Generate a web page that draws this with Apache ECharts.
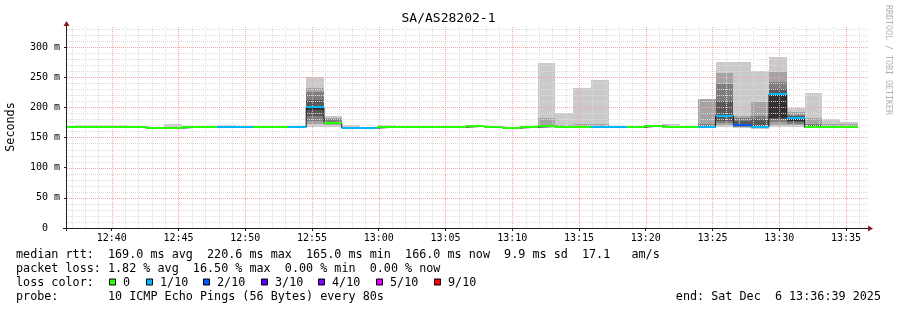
<!DOCTYPE html>
<html><head><meta charset="utf-8">
<script src="https://cdn.jsdelivr.net/npm/echarts@6.0.0/dist/echarts.min.js"></script>
<style>html,body{margin:0;padding:0;background:#fff;}#chart{width:897px;height:310px;}</style>
</head><body><div id="chart"></div>
<script>
// ---------------- data ----------------
const titleText = 'SA/AS28202-1';
const axisStartTime = [2025, 11, 6, 12, 36, 39];
const axisEndTime = [2025, 11, 6, 13, 36, 39];
const lastBinEndTime = [2025, 11, 6, 13, 35, 54];
const stepSeconds = 80;

// median rtt per 80 s step (ms)
const medianMs = [167,167,167,167,167,165.5,165.5,167,167,166.5,
  166.5,167,167,167,200,174,165.5,165.5,167,167,
  167,167,167,168.5,167,165.5,167,168.5,167,167,
  166.5,166.5,167,169,167,167,167,186,171,167.5,
  222,182,167,167,166.5];
// lost pings out of 10
const lossTenths = [0,0,0,0,0,0,0,0,0,1,
  1,0,0,1,1,0,1,1,0,0,
  0,0,0,0,0,0,0,0,0,0,
  1,1,0,0,0,0,1,1,2,1,
  1,1,0,0,0];
// sorted ping slots (ms), null = lost
const ping1 = [166,166,166,166,166,164.5,164.5,166,166,165.5,
  165.5,166,166,166,167,168,164.5,164.5,166,166,
  166,166,166,167.5,166,164.5,166,166,166,166,
  165.5,165.5,166,168,166,166,165,168,166,164,
  167,168,166,166,165.5];
const ping2 = [166,166,166,166,166,164.5,164.5,166,166,165.5,
  165.5,166,166,166,172,170,164.5,164.5,166,166,
  166,166,166,167.5,166,164.5,166,167,166,166,
  165.5,165.5,166,168,166,166,166,171,167,165,
  170,170,166,166,165.5];
const ping3 = [166.5,166.5,166.5,166.5,166.5,165,165,166.5,166.5,166,
  166,166.5,166.5,166.5,178,172,165,165,166.5,166.5,
  166.5,166.5,166.5,168,166.5,165,166.5,167.5,166.5,166.5,
  166,166,166.5,168.5,166.5,166.5,166,174,168,166,
  175,172,166.5,166.5,166];
const ping4 = [166.5,166.5,166.5,166.5,166.5,165,165,166.5,166.5,166,
  166,166.5,166.5,166.5,185,173,165,165,166.5,166.5,
  166.5,166.5,166.5,168,166.5,165,166.5,168,166.5,166.5,
  166,166,166.5,168.5,166.5,166.5,166.5,178,169,166,
  180,175,166.5,166.5,166];
const ping5 = [167,167,167,167,167,165.5,165.5,167,167,166.5,
  166.5,167,167,167,195,174,165.5,165.5,167,167,
  167,167,167,168.5,167,165.5,167,168,167,167,
  166.5,166.5,167,169,167,167,167,184,170,167,
  182,178,167,167,166.5];
const ping6 = [167,167,167,167,167,165.5,165.5,167,167,166.5,
  166.5,167,167,167,200,174,165.5,165.5,167,167,
  167,167,167,168.5,167,165.5,167,168.5,167,167,
  166.5,166.5,167,169,167,167,167,186,171,167.5,
  222,182,167,167,166.5];
const ping7 = [167.5,167.5,167.5,167.5,167.5,166,166,167.5,167.5,167,
  167,167.5,167.5,167.5,212,176,166,166,167.5,167.5,
  167.5,167.5,167.5,169,167.5,166,167.5,169,167.5,167.5,
  167,167,167.5,169.5,167.5,167.5,168,211,178,180,
  230,185,170,167.5,167];
const ping8 = [167.5,167.5,167.5,167.5,167.5,166,166,167.5,167.5,167,
  167,167.5,167.5,167.5,226,180,166,166,167.5,167.5,
  167.5,167.5,167.5,169,167.5,166,167.5,169.5,168,168,
  168,167,167.5,169.5,167.5,167.5,172,239,183,185,
  242,188,172,168,168];
const ping9 = [168,168,168,168,168,166.5,166.5,168,168,167.5,
  167.5,168,168,168,232,183,166.5,166.5,168,168,
  168,168,168,169.5,168,166.5,168,182,171,172.5,
  172.5,167.5,168,169.5,168,168,214,257.5,186,209,
  259,193,183,172.4,172];
const ping10 = [168,170,170,170,168,166.5,172,168,168,170,
  167.5,168,168,169,250,185,170,167,170,168,
  168,169,168,169.5,168,166.5,168,274,191,232.7,
  245,168,168,169.5,172.5,168,null,274.6,275,260,
  284,198,224,180,175.7];

const yLabelValues = [0, 50, 100, 150, 200, 250, 300];
const xLabelTexts = ['12:40','12:45','12:50','12:55','13:00','13:05','13:10','13:15','13:20','13:25','13:30','13:35'];
const lossLegendLabels = ['0','1/10','2/10','3/10','4/10','5/10','9/10'];
const lossLegendThresholds = [0, 1, 2, 3, 4, 5, 9];
const lossLegendColors = ['#26ff00','#00b8ff','#0059ff','#5e00ff','#7e00ff','#dd00ff','#ff0000'];
const statsRow1 = 'median rtt:  169.0 ms avg  220.6 ms max  165.0 ms min  166.0 ms now  9.9 ms sd  17.1   am/s';
const statsRow2 = 'packet loss: 1.82 % avg  16.50 % max  0.00 % min  0.00 % now';
const lossRowTitle = 'loss color:';
const probeRow = 'probe:       10 ICMP Echo Pings (56 Bytes) every 80s';
const endText = 'end: Sat Dec  6 13:36:39 2025';
const yAxisTitle = 'Seconds';
const creditText = 'RRDTOOL / TOBI OETIKER';

// ---------------- build ----------------
const mk = a => new Date(a[0], a[1], a[2], a[3], a[4], a[5]).getTime();
const axisStart = mk(axisStartTime), axisEnd = mk(axisEndTime), lastBinEnd = mk(lastBinEndTime);
const stepMs = stepSeconds * 1000;
const nBins = medianMs.length;
const binStart = medianMs.map((_, k) => lastBinEnd - (nBins - k) * stepMs);
const pings = [ping1, ping2, ping3, ping4, ping5, ping6, ping7, ping8, ping9, ping10];
const layerGrays = ['#cacaca', '#a4a4a4', '#7e7e7e', '#585858', '#323232'];
const MONO = '"DejaVu Sans Mono", monospace';

const hm = s => { const [h, m] = s.split(':').map(Number); return new Date(2025, 11, 6, h, m, 0).getTime(); };
const xMajor = xLabelTexts.map(hm);
const xMinor = [];
for (let t = hm('12:37'); t < axisEnd; t += 60000) if (xMajor.indexOf(t) < 0) xMinor.push(t);
const yMinor = [];
for (let v = 10; v <= 330; v += 10) if (v % 50 !== 0) yMinor.push(v);
const yMajor = yLabelValues.filter(v => v > 0);

function lossColor(l) {
  let c = lossLegendColors[0];
  lossLegendThresholds.forEach((th, i) => { if (l >= th) c = lossLegendColors[i]; });
  return c;
}

const smokeData = [];
for (let layer = 0; layer < 5; layer++) {
  const lo = pings[layer], hi = pings[9 - layer];
  for (let k = 0; k < nBins; k++) {
    if (lo[k] == null || hi[k] == null) continue;
    smokeData.push([binStart[k], binStart[k] + stepMs, lo[k], hi[k], layer]);
  }
}
const medianColData = medianMs.map((m, k) => [binStart[k], binStart[k] + stepMs, m]);
const medianLineData = medianMs.map((m, k) => [binStart[k], m]);
medianLineData.push([lastBinEnd, medianMs[nBins - 1]]);

function clipR(shape, cs) {
  return echarts.graphic.clipRectByRect(shape, { x: cs.x, y: cs.y, width: cs.width, height: cs.height });
}
function renderSmoke(params, api) {
  const x0 = Math.round(api.coord([api.value(0), 0])[0]);
  const x1 = Math.round(api.coord([api.value(1), 0])[0]);
  const yT = Math.round(api.coord([api.value(0), api.value(3)])[1]);
  const yB = Math.round(api.coord([api.value(0), api.value(2)])[1]);
  const shape = clipR({ x: x0, y: yT, width: x1 - x0, height: Math.max(yB - yT, 0) }, params.coordSys);
  if (!shape) return;
  return { type: 'rect', shape, style: { fill: layerGrays[smokeData[params.dataIndex][4]] } };
}
function renderMedian(params, api) {
  const k = params.dataIndex;
  const x0 = Math.round(api.coord([api.value(0), 0])[0]);
  const x1 = Math.round(api.coord([api.value(1), 0])[0]);
  const y = Math.round(api.coord([api.value(0), api.value(2)])[1]);
  const s = clipR({ x: x0, y: y - 1, width: x1 - x0, height: 2 }, params.coordSys);
  if (!s) return;
  return { type: 'rect', shape: s, style: { fill: lossColor(lossTenths[k]) } };
}
const pad2 = n => (n < 10 ? '0' : '') + n;

const GL = 67, GT = 27, GR = 868, GB = 228;
const legendRowY = [254.5, 268.5, 282.5, 296.5];
const sqX = [109, 146, 203, 261, 318, 376, 434];

const graphics = [
  { type: 'text', left: 'center', top: 12, style: { text: titleText, font: '13px ' + MONO, fill: '#000' } },
  { type: 'text', x: 11, y: 127, rotation: Math.PI / 2, style: { text: yAxisTitle, font: '11.75px ' + MONO, fill: '#000', align: 'center', verticalAlign: 'middle' } },
  { type: 'text', x: 888, y: 60, rotation: -Math.PI / 2, style: { text: creditText, font: '8.3px ' + MONO, fill: '#b0b0b0', align: 'center', verticalAlign: 'middle' } },
  { type: 'line', shape: { x1: GL - 0.5, y1: GB + 3, x2: GL - 0.5, y2: 24 }, style: { stroke: '#1f1f1f', lineWidth: 1 }, z: 50 },
  { type: 'line', shape: { x1: GL - 4, y1: GB + 0.5, x2: GR + 1, y2: GB + 0.5 }, style: { stroke: '#1f1f1f', lineWidth: 1 }, z: 50 },
  { type: 'polygon', shape: { points: [[GL - 3.5, 26], [GL + 2.5, 26], [GL - 0.5, 21]] }, style: { fill: '#801f1f' }, z: 51 },
  { type: 'polygon', shape: { points: [[GR, GB - 2.5], [GR, GB + 3.5], [GR + 5, GB + 0.5]] }, style: { fill: '#801f1f' }, z: 51 },
  { type: 'text', x: 16, y: legendRowY[0], style: { text: statsRow1, font: '11.75px ' + MONO, fill: '#000', verticalAlign: 'middle' } },
  { type: 'text', x: 16, y: legendRowY[1], style: { text: statsRow2, font: '11.75px ' + MONO, fill: '#000', verticalAlign: 'middle' } },
  { type: 'text', x: 16, y: legendRowY[2], style: { text: lossRowTitle, font: '11.75px ' + MONO, fill: '#000', verticalAlign: 'middle' } },
  { type: 'text', x: 16, y: legendRowY[3], style: { text: probeRow, font: '11.75px ' + MONO, fill: '#000', verticalAlign: 'middle' } },
  { type: 'text', x: 881, y: legendRowY[3], style: { text: endText, font: '11.75px ' + MONO, fill: '#000', align: 'right', verticalAlign: 'middle' } }
];
lossLegendLabels.forEach((lab, i) => {
  graphics.push({ type: 'rect', shape: { x: sqX[i] + 0.5, y: legendRowY[2] - 3.5, width: 6, height: 6 }, style: { fill: lossLegendColors[i], stroke: '#000', lineWidth: 1 } });
  graphics.push({ type: 'text', x: sqX[i] + 14, y: legendRowY[2], style: { text: lab, font: '11.75px ' + MONO, fill: '#000', verticalAlign: 'middle' } });
});

const chart = echarts.init(document.getElementById('chart'), null, { renderer: 'canvas' });
chart.setOption({
  animation: false,
  backgroundColor: '#ffffff',
  grid: { left: GL, top: GT, right: 897 - GR, bottom: 310 - GB, containLabel: false },
  xAxis: {
    type: 'value', min: axisStart, max: axisEnd,
    axisLine: { show: false }, splitLine: { show: false },
    axisTick: { show: true, length: 3, customValues: xMajor, lineStyle: { color: '#1f1f1f' } },
    axisLabel: {
      customValues: xMajor, margin: 5, fontFamily: MONO, fontSize: 10, color: '#000',
      formatter: v => { const d = new Date(v); return pad2(d.getHours()) + ':' + pad2(d.getMinutes()); }
    }
  },
  yAxis: {
    type: 'value', min: 0, max: 333,
    axisLine: { show: false }, splitLine: { show: false },
    axisTick: { show: true, length: 3, customValues: yLabelValues, lineStyle: { color: '#1f1f1f' } },
    axisLabel: {
      customValues: yLabelValues, margin: 7, fontFamily: MONO, fontSize: 10, color: '#000',
      formatter: v => (v === 0 ? '0  ' : v + ' m')
    }
  },
  series: [
    { type: 'custom', name: 'smoke', renderItem: renderSmoke, data: smokeData, encode: { x: [0, 1], y: [2, 3] }, z: 2, silent: true, clip: true },
    { type: 'line', name: 'median', data: medianLineData, step: 'end', showSymbol: false, symbol: 'none', clip: true,
      lineStyle: { color: '#202020', width: 1 }, z: 4, silent: true },
    { type: 'custom', name: 'medianLoss', renderItem: renderMedian, data: medianColData, encode: { x: [0, 1], y: 2 }, z: 5, silent: true, clip: true }
  ]
});

// grid lines positioned through the chart's own scales
const gridMinorColor = '#dcdcdc';
const gridMajorColor = '#f4a6a6';
const gridEls = [];
const px = (x, y) => chart.convertToPixel({ gridIndex: 0 }, [x, y]);
const yTopPx = px(axisStart, 333)[1], yBotPx = px(axisStart, 0)[1];
const xLeftPx = px(axisStart, 0)[0], xRightPx = px(axisEnd, 0)[0];
function vLine(t, color) {
  const x = Math.round(px(t, 0)[0]) + 0.5;
  gridEls.push({ type: 'line', silent: true, z: 3, shape: { x1: x, y1: Math.round(yTopPx), x2: x, y2: Math.round(yBotPx) }, style: { stroke: color, lineWidth: 1, lineDash: [1, 1] } });
}
function hLine(v, color) {
  const y = Math.round(px(axisStart, v)[1]) + 0.5;
  gridEls.push({ type: 'line', silent: true, z: 3, shape: { x1: Math.round(xLeftPx), y1: y, x2: Math.round(xRightPx), y2: y }, style: { stroke: color, lineWidth: 1, lineDash: [1, 1] } });
}
xMinor.forEach(t => vLine(t, gridMinorColor));
yMinor.forEach(v => hLine(v, gridMinorColor));
xMajor.forEach(t => vLine(t, gridMajorColor));
yMajor.forEach(v => hLine(v, gridMajorColor));

chart.setOption({ graphic: graphics.concat(gridEls) });
</script></body></html>
